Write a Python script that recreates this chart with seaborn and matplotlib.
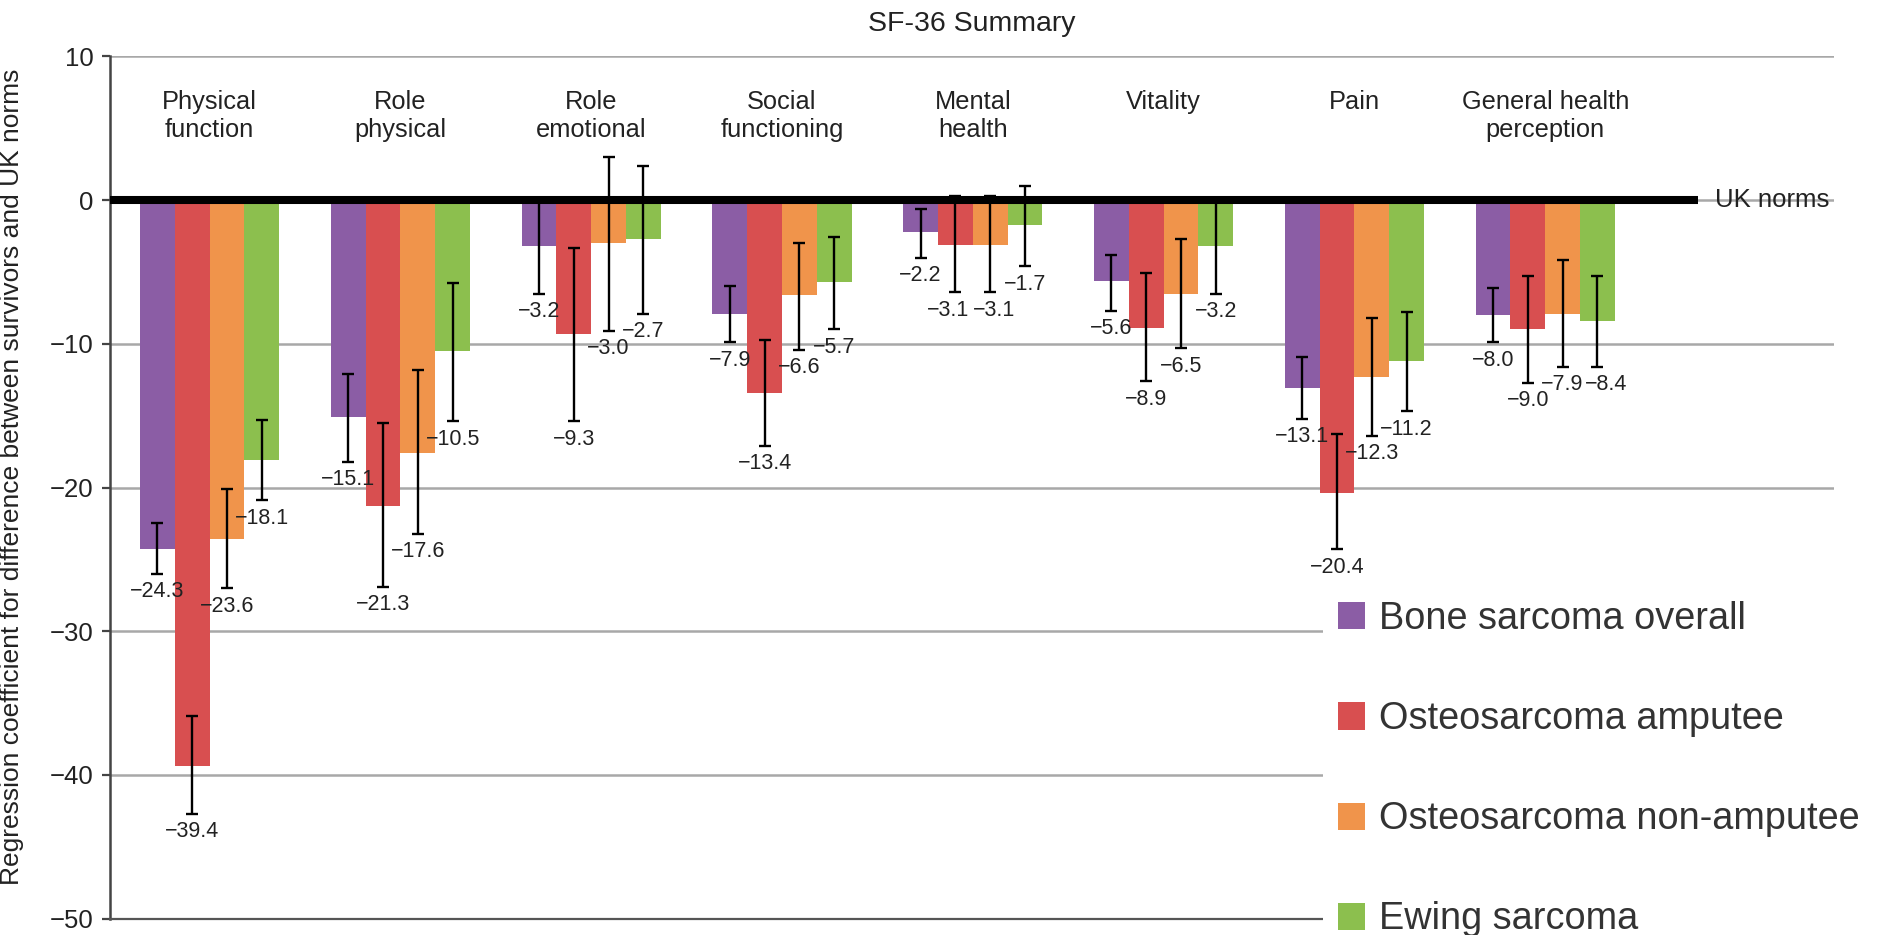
import matplotlib
matplotlib.use("Agg")
import matplotlib.pyplot as plt
import seaborn as sns
import pandas as pd

# ---- data ----
categories = ["Physical\nfunction", "Role\nphysical", "Role\nemotional", "Social\nfunctioning",
              "Mental\nhealth", "Vitality", "Pain", "General health\nperception"]
groups = ["Bone sarcoma overall", "Osteosarcoma amputee", "Osteosarcoma non-amputee", "Ewing sarcoma"]

bone = [-24.3, -15.1, -3.2, -7.9, -2.2, -5.6, -13.1, -8.0]
bone_lo = [-26.0, -18.2, -6.5, -9.9, -4.0, -7.7, -15.2, -9.9]
bone_hi = [-22.5, -12.1, 0.0, -6.0, -0.6, -3.8, -10.9, -6.1]

amp = [-39.4, -21.3, -9.3, -13.4, -3.1, -8.9, -20.4, -9.0]
amp_lo = [-42.7, -26.9, -15.4, -17.1, -6.4, -12.6, -24.3, -12.7]
amp_hi = [-35.9, -15.5, -3.3, -9.7, 0.3, -5.1, -16.3, -5.3]

nonamp = [-23.6, -17.6, -3.0, -6.6, -3.1, -6.5, -12.3, -7.9]
nonamp_lo = [-27.0, -23.2, -9.1, -10.4, -6.4, -10.3, -16.4, -11.6]
nonamp_hi = [-20.1, -11.8, 3.0, -3.0, 0.3, -2.7, -8.2, -4.2]

ewing = [-18.1, -10.5, -2.7, -5.7, -1.7, -3.2, -11.2, -8.4]
ewing_lo = [-20.9, -15.4, -7.9, -9.0, -4.6, -6.5, -14.7, -11.6]
ewing_hi = [-15.3, -5.8, 2.4, -2.6, 1.0, 0.0, -7.8, -5.3]

yticks = [-50, -40, -30, -20, -10, 0, 10]

colors = ["#8B5DA5", "#D84F50", "#F0944B", "#8CBF4E"]
text_color = "#222222"

# small horizontal nudges (points) for crowded value labels: (group, category) -> dx
label_nudge = {(1, 4): -5, (2, 4): 3, (3, 7): 6}

values = [bone, amp, nonamp, ewing]
lows = [bone_lo, amp_lo, nonamp_lo, ewing_lo]
highs = [bone_hi, amp_hi, nonamp_hi, ewing_hi]

rows = []
for g, vals in zip(groups, values):
    for c, v in zip(categories, vals):
        rows.append({"category": c, "group": g, "value": v})
df = pd.DataFrame(rows)

# ---- style ----
sns.set_theme(style="white")
plt.rcParams["font.family"] = ["Liberation Sans", "DejaVu Sans"]

fig = plt.figure(figsize=(18.83, 9.35), dpi=100)
ax = fig.add_axes([0.05868, 0.01743, 0.9153, 0.92225])

sns.barplot(data=df, x="category", y="value", hue="group", order=categories,
            hue_order=groups, palette=colors, saturation=1, width=0.73,
            errorbar=None, linewidth=0, ax=ax, zorder=2)

# error bars and value labels from seaborn's bar positions
for gi, (container, vals, lo, hi) in enumerate(zip(ax.containers, values, lows, highs)):
    xs = [b.get_x() + b.get_width() / 2 for b in container]
    yerr = [[v - l for v, l in zip(vals, lo)], [h - v for v, h in zip(vals, hi)]]
    ax.errorbar(xs, vals, yerr=yerr, fmt="none", ecolor="black",
                elinewidth=1.7, capsize=4, capthick=1.7, zorder=6)
    for ci, (x, v, l) in enumerate(zip(xs, vals, lo)):
        dx = label_nudge.get((gi, ci), 0)
        ax.annotate(f"{v:.1f}".replace("-", "\u2212"), xy=(x, l - 1.25),
                    xytext=(dx, 0), textcoords="offset points", ha="center",
                    va="center", fontsize=15.5, color=text_color, zorder=7)

# axes cosmetics
ax.set_xlim(-0.5194, 8.5136)
ax.set_ylim(-50, 10)
ax.set_yticks(yticks)
ax.set_xticks([])
ax.set_xlabel("")
ax.yaxis.grid(True, color="#a8a8a8", lw=1.8)
ax.set_axisbelow(True)
for s in ["top", "right"]:
    ax.spines[s].set_visible(False)
ax.spines["left"].set_color("#444444")
ax.spines["left"].set_linewidth(1.8)
ax.spines["bottom"].set_color("#555555")
ax.spines["bottom"].set_linewidth(1.6)
ax.tick_params(axis="y", left=True, length=6, width=1.6, color="#444444",
               labelsize=18.5, labelcolor=text_color, pad=6)

ax.set_ylabel("Regression coefficient for difference between survivors and UK norms",
              fontsize=19, color=text_color)
ax.yaxis.set_label_coords(-0.050, 0.512)

# UK norms reference line
ax.hlines(0, -0.5194, 7.80, color="black", lw=5.8, zorder=5)
ax.text(7.89, 0.0, "UK norms", ha="left", va="center", fontsize=18.5, color=text_color)

# category labels inside the plot
for i, c in enumerate(categories):
    ax.text(i, 7.65, c, ha="center", va="top", fontsize=18.3, color=text_color,
            linespacing=1.2)

fig.text(0.5163, 1 - 24 / 935, "SF-36 Summary", ha="center", va="center",
         fontsize=20.5, color=text_color)

# legend
handles, labels = ax.get_legend_handles_labels()
leg = ax.legend(handles, labels, loc="upper left",
                bbox_to_anchor=(1323 / 1883, 1 - 586 / 935),
                bbox_transform=fig.transFigure, frameon=True, facecolor="white",
                edgecolor="none", framealpha=1, fancybox=False, fontsize=27.3,
                borderpad=0.4, handlelength=0.72, handleheight=0.72,
                handletextpad=0.35, labelspacing=1.69, borderaxespad=0)
for t in leg.get_texts():
    t.set_color("#333333")
leg.set_zorder(10)

fig.savefig("out.png", dpi=100)
